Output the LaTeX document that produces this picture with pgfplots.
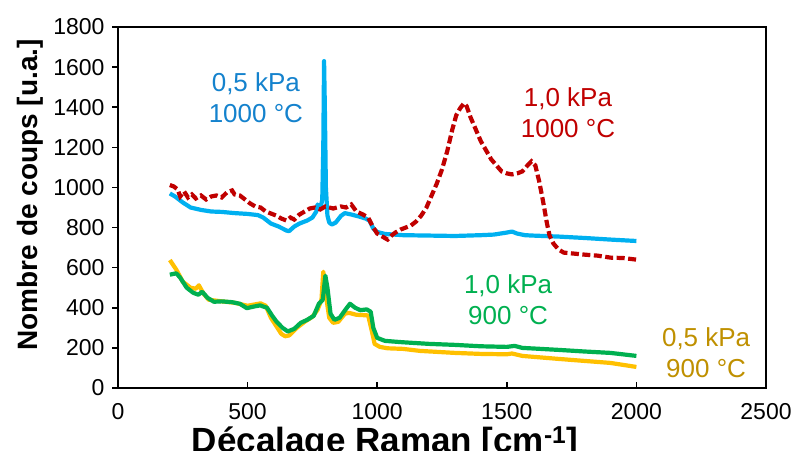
\documentclass[border=0pt]{standalone}
\usepackage{pgfplots}
\pgfplotsset{compat=1.18}
\usepackage{fontspec}
\setmainfont{Liberation Sans}
\definecolor{cblue}{HTML}{00B0F0}
\definecolor{cbluet}{RGB}{20,130,205}
\definecolor{cred}{HTML}{C00000}
\definecolor{cgreen}{HTML}{00B050}
\definecolor{cyel}{HTML}{FFC000}
\definecolor{cgold}{HTML}{BF9000}
\begin{document}
\begin{tikzpicture}[x=1pt,y=1pt]
\path[use as bounding box] (0,0) rectangle (794,450);
\begin{axis}[
  at={(118pt,62pt)}, anchor=south west,
  scale only axis, width=648pt, height=361pt,
  xmin=0, xmax=2500, ymin=0, ymax=1800,
  xtick={0,500,...,2500}, ytick={0,200,...,1800},
  tick pos=left,
  tick align=inside,
  major tick length=6pt,
  ytick style={xshift=-6pt, line width=1.5pt, black},
  xtick style={line width=1.5pt, black},
  axis line style={line width=1.8pt, black},
  /pgf/number format/assume math mode=true,
  /pgf/number format/1000 sep={},
  tick label style={font=\fontsize{23}{27}\selectfont},
  yticklabel style={xshift=-10pt},
  xticklabel style={yshift=-12pt},
  xlabel={\textbf{Décalage Raman [cm\textsuperscript{-1}]}},
  ylabel={\textbf{Nombre de coups [u.a.]}},
  ylabel style={font=\fontsize{28}{32}\selectfont, at={(axis description cs:-0.136,0.535)}, anchor=center, rotate=0},
  xlabel style={font=\fontsize{35}{40}\selectfont, at={(axis description cs:0.412,-0.178)}, anchor=base},
  clip=false,
]
\addplot[cblue, line width=4.2pt, line join=round] coordinates {
(200,970)(220,955)(250,925)(280,900)(320,888)(360,880)(400,878)(450,872)(500,868)(540,862)(560,850)(590,820)(620,805)(650,785)(660,782)(680,805)(700,820)(730,835)(750,850)(765,880)(770,915)(775,905)(782,900)(788,940)(792,1200)(795,1630)(798,1400)(802,1000)(808,860)(815,825)(825,815)(840,825)(860,858)(875,872)(900,865)(930,855)(955,845)(970,835)(985,795)(1000,778)(1030,768)(1100,762)(1200,760)(1300,758)(1400,762)(1450,765)(1500,775)(1520,780)(1540,770)(1570,762)(1600,760)(1700,755)(1800,748)(1900,740)(2000,733)
};
\addplot[cred, line width=4.2pt, dash pattern=on 8pt off 3.5pt] coordinates {
(200,1012)(215,1005)(230,990)(240,955)(255,980)(270,950)(285,965)(300,945)(320,960)(340,940)(360,955)(380,960)(400,950)(420,975)(440,985)(450,965)(470,960)(490,940)(510,920)(530,905)(550,900)(570,880)(590,870)(610,860)(630,845)(650,835)(665,850)(680,840)(700,865)(720,880)(740,895)(760,900)(780,890)(800,905)(830,895)(860,905)(880,900)(900,915)(920,880)(945,865)(965,850)(985,800)(1000,770)(1020,755)(1040,740)(1055,760)(1070,775)(1090,790)(1110,800)(1130,810)(1150,830)(1170,860)(1190,900)(1210,960)(1230,1020)(1250,1090)(1270,1180)(1290,1290)(1305,1360)(1320,1395)(1335,1420)(1345,1405)(1360,1350)(1380,1290)(1400,1230)(1420,1185)(1440,1140)(1460,1110)(1480,1080)(1500,1070)(1520,1065)(1540,1070)(1560,1080)(1580,1110)(1595,1130)(1610,1110)(1625,1030)(1640,930)(1655,820)(1665,760)(1680,720)(1700,690)(1720,675)(1760,670)(1800,665)(1850,660)(1900,650)(1950,648)(2000,640)
};
\addplot[cyel, line width=4.2pt, line join=round] coordinates {
(200,638)(225,590)(250,530)(280,500)(300,495)(312,512)(330,470)(350,440)(400,432)(450,425)(500,410)(550,422)(570,410)(590,350)(610,310)(630,270)(645,258)(660,262)(690,300)(720,330)(750,355)(770,390)(785,440)(792,580)(800,480)(815,350)(830,325)(850,330)(875,370)(890,375)(920,365)(965,362)(980,280)(990,220)(1010,205)(1040,198)(1100,195)(1165,185)(1300,175)(1400,170)(1500,168)(1520,172)(1560,160)(1700,145)(1800,135)(1900,125)(2000,105)
};
\addplot[cgreen, line width=4.2pt, line join=round] coordinates {
(200,565)(225,572)(240,550)(265,500)(290,475)(310,465)(325,480)(345,450)(370,430)(400,432)(440,428)(470,420)(497,398)(520,405)(548,412)(575,400)(595,360)(612,330)(635,300)(655,282)(680,295)(705,325)(730,340)(755,360)(775,420)(790,440)(800,560)(808,500)(820,370)(835,340)(855,350)(880,395)(895,420)(915,400)(935,388)(960,392)(975,380)(985,300)(1000,250)(1030,235)(1100,228)(1200,220)(1300,215)(1400,208)(1500,205)(1530,210)(1560,200)(1700,190)(1800,182)(1900,175)(2000,160)
};
\node[cbluet, align=center, font=\fontsize{26}{31}\selectfont] at (axis cs:532,1445) {0,5 kPa\\1000 °C};
\node[cred, align=center, font=\fontsize{26}{31}\selectfont] at (axis cs:1736,1375) {1,0 kPa\\1000 °C};
\node[cgreen, align=center, font=\fontsize{26}{31}\selectfont] at (axis cs:1505,440) {1,0 kPa\\900 °C};
\node[cgold, align=center, font=\fontsize{26}{31}\selectfont] at (axis cs:2269,176) {0,5 kPa\\900 °C};
\end{axis}
\draw[line width=1.8pt, black] (118,423) -- (766,423) -- (766,62);
\end{tikzpicture}
\end{document}
